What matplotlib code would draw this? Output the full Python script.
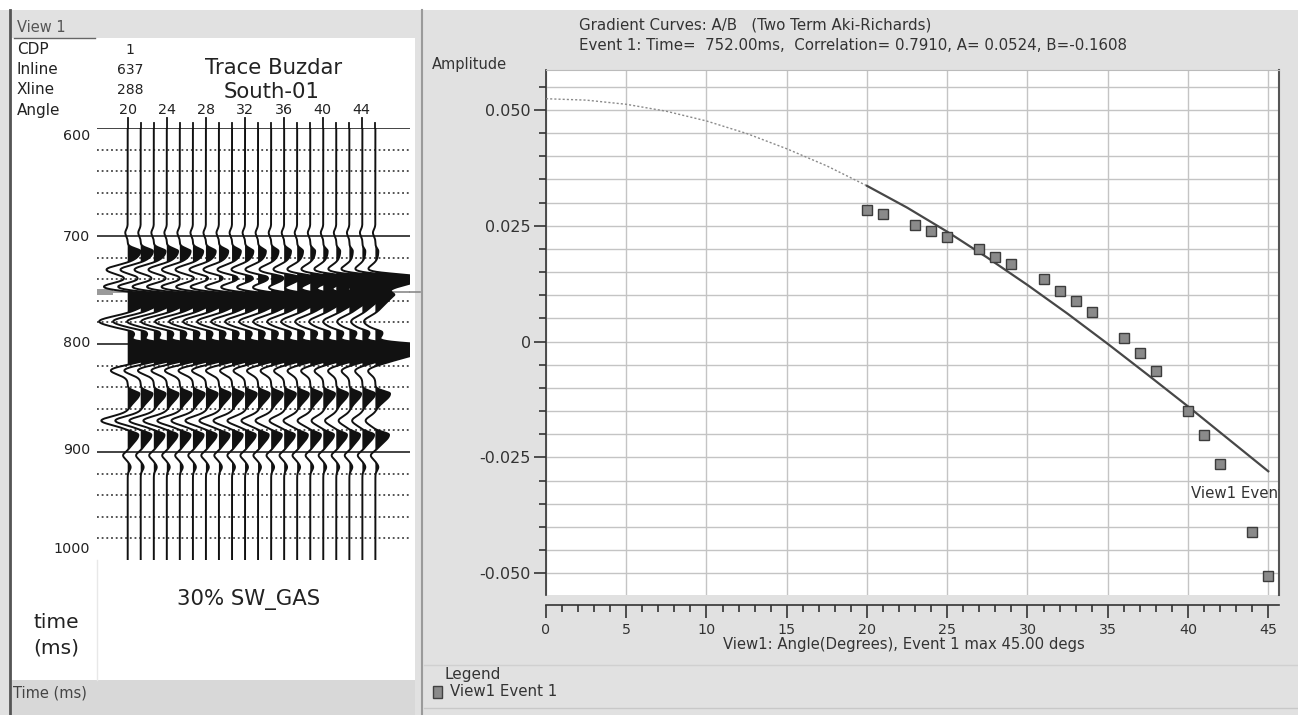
import numpy as np
import matplotlib
matplotlib.use("Agg")
import matplotlib.pyplot as plt
from matplotlib.patches import Rectangle
from matplotlib.ticker import MultipleLocator, FixedLocator

W, H = 1298, 715

# ---------------- Right panel data (gradient curve) ----------------
angles = [20, 21, 23, 24, 25, 27, 28, 29, 31, 32, 33, 34, 36, 37, 38, 40, 41, 42, 44, 45]
amplitudes = [0.0284, 0.0275, 0.0252, 0.0239, 0.0226, 0.0200, 0.0183, 0.0167, 0.0135, 0.0109,
              0.0087, 0.0064, 0.0008, -0.0025, -0.0064, -0.0150, -0.0202, -0.0265, -0.0411, -0.0506]
curve_angles = [0, 2.5, 5, 7.5, 10, 12.5, 15, 17.5, 20, 22.5, 25, 27.5, 30, 32.5, 35, 37.5, 40, 42.5, 45]
curve_values = [0.0524, 0.0521, 0.0512, 0.0497, 0.0476, 0.0449, 0.0416, 0.0379, 0.0336, 0.0289,
                0.0237, 0.0181, 0.0122, 0.0060, -0.0005, -0.0072, -0.0140, -0.0210, -0.0280]
fit_start = 20
x_ticks = [0, 5, 10, 15, 20, 25, 30, 35, 40, 45]
y_ticks = [-0.050, -0.025, 0.0, 0.025, 0.050]
y_tick_labels = ["-0.050", "-0.025", "0", "0.025", "0.050"]

# ---------------- Left panel data (synthetic gather) ----------------
trace_angles = [20.0, 21.33, 22.67, 24.0, 25.33, 26.67, 28.0, 29.33, 30.67, 32.0,
                33.33, 34.67, 36.0, 37.33, 38.67, 40.0, 41.33, 42.67, 44.0, 45.33]
angle_labels = [20, 24, 28, 32, 36, 40, 44]
time_labels = [600, 700, 800, 900, 1000]
event_time_ms = 752
# events: (time ms, rise width, decay width, deflection per trace in angle units)
ev_t0 = [697, 714, 731, 738, 747, 755, 779, 789, 802, 824, 846, 871, 884, 903, 914]
ev_up = [3, 2.5, 4, 2.5, 3.5, 2.5, 4.5, 2, 2.5, 4, 2.5, 4, 2.5, 3, 3]
ev_dn = [3, 8, 4, 8, 3.5, 9, 4.5, 5, 9, 4, 7, 4, 7, 3, 3]
ev_amp = [
    [-0.25] * 20,
    [1.3, 1.25, 1.2, 1.15, 1.1, 1.05, 1.0, 0.95, 0.9, 0.85, 0.8, 0.75, 0.7, 0.6, 0.5, 0.45, 0.4, 0.35, 0.3, 0.3],
    [-2.3, -2.2, -2.1, -2.0, -1.95, -1.9, -1.8, -1.7, -1.6, -1.5, -1.4, -1.3, -1.2, -1.1, -1.0, -1.0, -0.9, -0.9, -0.8, -0.8],
    [0.1, 0.15, 0.2, 0.3, 0.4, 0.5, 0.6, 0.75, 0.9, 1.1, 1.3, 1.5, 1.8, 2.1, 2.5, 2.9, 3.3, 3.8, 4.3, 5.0],
    [-2.5, -2.4, -2.3, -2.2, -2.1, -2.0, -1.9, -1.8, -1.6, -1.4, -1.2, -1.0, -0.8, -0.6, -0.5, -0.4, -0.3, -0.3, -0.3, -0.3],
    [3.0, 3.0, 3.0, 3.0, 3.0, 3.0, 3.0, 3.0, 3.0, 3.0, 3.0, 3.0, 2.9, 2.8, 2.7, 2.6, 2.6, 2.2, 1.8, 1.4],
    [-3.0, -2.9, -2.8, -2.7, -2.6, -2.5, -2.4, -2.3, -2.2, -2.1, -2.0, -1.9, -1.8, -1.7, -1.6, -1.5, -1.4, -1.3, -1.2, -1.2],
    [0.8] * 20,
    [6.0] * 20,
    [-2.0, -1.95, -1.9, -1.85, -1.8, -1.75, -1.7, -1.6, -1.5, -1.45, -1.4, -1.35, -1.3, -1.25, -1.2, -1.15, -1.1, -1.05, -1.0, -1.0],
    [1.2, 1.2, 1.2, 1.2, 1.2, 1.2, 1.2, 1.2, 1.2, 1.2, 1.2, 1.2, 1.2, 1.2, 1.2, 1.2, 1.2, 1.2, 1.3, 1.5],
    [-2.7, -2.6, -2.5, -2.4, -2.3, -2.2, -2.1, -2.0, -1.9, -1.8, -1.7, -1.6, -1.5, -1.4, -1.3, -1.2, -1.15, -1.1, -1.05, -1.0],
    [1.1, 1.1, 1.1, 1.1, 1.1, 1.1, 1.1, 1.1, 1.1, 1.1, 1.1, 1.1, 1.1, 1.1, 1.1, 1.1, 1.1, 1.1, 1.2, 1.4],
    [-0.5] * 20,
    [0.3] * 20,
]

FONT = "DejaVu Sans"
plt.rcParams["font.family"] = [FONT]


def fbox(x0, y0, x1, y1):
    return [x0 / W, 1 - y1 / H, (x1 - x0) / W, (y1 - y0) / H]


fig = plt.figure(figsize=(W / 100, H / 100), dpi=100)
fig.patch.set_facecolor("#e1e1e1")

bg = fig.add_axes([0, 0, 1, 1])
bg.set_xlim(0, W)
bg.set_ylim(H, 0)
bg.axis("off")


def rect(x0, y0, x1, y1, **kw):
    bg.add_patch(Rectangle((x0, y0), x1 - x0, y1 - y0, **kw))


def txt(x, y, s, **kw):
    kw.setdefault("va", "center")
    kw.setdefault("ha", "left")
    bg.text(x, y, s, **kw)


# frame pieces
rect(0, 0, W, 10, color="white", lw=0)
rect(12, 38, 415, 680, color="white", lw=0)
rect(12, 680, 415, 715, color="#d8d8d8", lw=0)
bg.plot([9.5, 9.5], [10, 715], color="#555555", lw=2)
bg.plot([422, 422], [10, 715], color="#9a9a9a", lw=1.5)
bg.plot([14, 95], [38, 38], color="#666666", lw=1)
bg.plot([97, 97], [560, 680], color="#e8e8e8", lw=1)
bg.plot([424, 1298], [665, 665], color="#d0d0d0", lw=1)
bg.plot([424, 1298], [708, 708], color="#c8c8c8", lw=1)

# left panel texts
txt(17, 27, "View 1", fontsize=10.5, color="#555555")
for yy, lab, val in [(50, "CDP", "1"), (70, "Inline", "637"), (90, "Xline", "288"), (110, "Angle", None)]:
    txt(17, yy, lab, fontsize=11, color="#222222")
    if val is not None:
        txt(130, yy, val, fontsize=10, color="#222222", ha="center")
txt(274, 68, "Trace Buzdar", fontsize=15.3, color="#222222", ha="center")
txt(272, 92, "South-01", fontsize=15.3, color="#222222", ha="center")
txt(249, 600, "30% SW_GAS", fontsize=15.3, color="#222222", ha="center")
txt(56, 623, "time", fontsize=14.5, color="#222222", ha="center")
txt(56, 648, "(ms)", fontsize=14.5, color="#222222", ha="center")
txt(13, 693, "Time (ms)", fontsize=10.5, color="#444444")
for tl, yy in zip(time_labels, [136, 237, 343, 450, 549]):
    txt(90, yy, str(tl), fontsize=10.3, color="#222222", ha="right")

# ---------------- gather ----------------
gx = fig.add_axes(fbox(97, 128, 410, 560))
gx.set_xlim(16.86, 48.87)
gx.set_ylim(1000, 600)
gx.axis("off")
for tm in range(600, 1000, 20):
    if tm % 100 == 0:
        gx.axhline(tm, color="#222222", lw=1.2, zorder=1)
    else:
        gx.axhline(tm, color="#444444", lw=1.3, ls=(0, (1, 1.6)), zorder=1)
gx.axhline(event_time_ms, color="#8a8a8a", lw=1.2, zorder=1)
gx.add_patch(Rectangle((16.86, event_time_ms - 3), 1.6, 6, color="#9a9a9a", lw=0, zorder=1))
gx.plot([48.87, 49.9], [event_time_ms, event_time_ms], color="#8a8a8a", lw=1.2, clip_on=False)

t = np.linspace(600, 1000, 2001)
for i, a in enumerate(trace_angles):
    d = np.zeros_like(t)
    for t0, su, sd, amp in zip(ev_t0, ev_up, ev_dn, ev_amp):
        s = np.where(t < t0, su, sd)
        d += amp[i] * np.exp(-0.5 * ((t - t0) / s) ** 2)
    x = a + d
    gx.fill_betweenx(t, a, x, where=d > 0, color="#111111", interpolate=True, lw=0, zorder=3)
    gx.plot(x, t, color="#111111", lw=1.4, zorder=4)
    big = any(abs(a - al) < 0.2 for al in angle_labels)
    gx.plot([a, a], [600, 600 - (9.5 if big else 5)], color="#111111", lw=1.3, clip_on=False)

for al in angle_labels:
    xp = 127.7 + (al - 20) * 9.75
    txt(xp, 110, str(al), fontsize=10.3, color="#222222", ha="center")

# ---------------- right panel ----------------
txt(579, 25, "Gradient Curves: A/B   (Two Term Aki-Richards)", fontsize=10.8, color="#333333")
txt(579, 45, "Event 1: Time=  752.00ms,  Correlation= 0.7910, A= 0.0524, B=-0.1608",
    fontsize=10.8, color="#333333")
txt(432, 65, "Amplitude", fontsize=10.5, color="#333333")
txt(723, 645, "View1: Angle(Degrees), Event 1 max 45.00 degs", fontsize=10.7, color="#333333")
txt(445, 674, "Legend", fontsize=11, color="#333333")
rect(433, 686, 442, 698, facecolor="#8a8a8a", edgecolor="#404040", lw=1)
txt(450, 692, "View1 Event 1", fontsize=10.8, color="#333333")

ax = fig.add_axes(fbox(546, 70, 1279, 595))
ax.set_facecolor("white")
ax.set_xlim(0, 45.67)
ax.set_ylim(-0.0547, 0.0586)
ax.xaxis.set_major_locator(FixedLocator(x_ticks))
ax.xaxis.set_minor_locator(MultipleLocator(1))
ax.yaxis.set_major_locator(FixedLocator(y_ticks))
ax.yaxis.set_minor_locator(MultipleLocator(0.005))
ax.set_yticklabels(y_tick_labels)
ax.grid(True, which="major", axis="x", color="#c4c4c4", lw=1)
ax.grid(True, which="minor", axis="y", color="#c4c4c4", lw=1)
ax.grid(True, which="major", axis="y", color="#c4c4c4", lw=1)
ax.set_axisbelow(True)
ax.spines["bottom"].set_position(("outward", 7.5))
ax.spines["bottom"].set_color("#333333")
ax.spines["left"].set_color("#333333")
ax.spines["left"].set_linewidth(1.2)
ax.spines["bottom"].set_linewidth(1.2)
ax.spines["right"].set_color("#555555")
ax.spines["right"].set_linewidth(1.5)
ax.spines["top"].set_color("#bbbbbb")
ax.tick_params(axis="both", which="major", length=9, width=1.2, color="#333333",
               labelcolor="#333333", direction="out")
ax.tick_params(axis="x", which="major", labelsize=10.3)
ax.tick_params(axis="y", which="major", labelsize=11.5)
ax.tick_params(axis="both", which="minor", length=5, width=1.2, color="#333333", direction="out")
ax.tick_params(axis="y", which="both", pad=2)

ca = np.array(curve_angles)
cv = np.array(curve_values)
m1 = ca <= fit_start
m2 = ca >= fit_start
ax.plot(ca[m1], cv[m1], color="#8a8a8a", lw=1.0, ls=(0, (1.5, 1.5)), zorder=3)
ax.plot(ca[m2], cv[m2], color="#474747", lw=1.6, zorder=3)
ax.plot(angles, amplitudes, ls="none", marker="s", markersize=7.5,
        markerfacecolor="#8a8a8a", markeredgecolor="#3c3c3c", markeredgewidth=1.0, zorder=4)
ax.text(40.2, -0.0327, "View1 Event 1", fontsize=10.8, color="#333333", va="center", ha="left", clip_on=True)

fig.savefig("out.png", dpi=100, facecolor=fig.get_facecolor())
